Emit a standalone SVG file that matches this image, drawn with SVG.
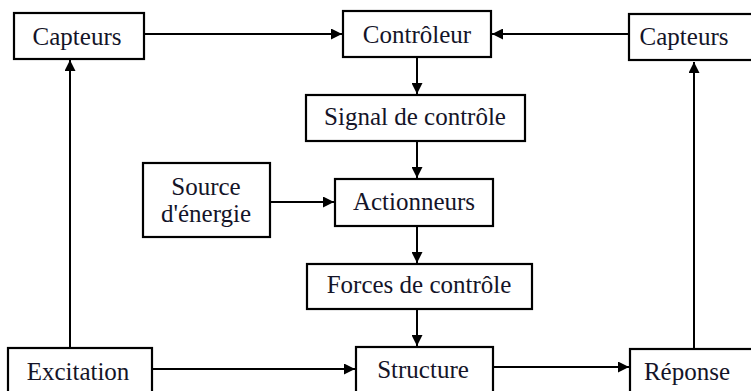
<svg xmlns="http://www.w3.org/2000/svg" width="751" height="391" viewBox="0 0 751 391">
<defs>
<style>
rect.box{fill:#fff;stroke:#000;stroke-width:2.2}
text.lbl{font-family:'Liberation Serif','Times New Roman',serif;font-size:25px;fill:#141428;text-anchor:middle}
.conn line{stroke:#000;stroke-width:2}
</style>
<marker id="ah" viewBox="0 0 10 10" refX="10" refY="5" markerWidth="11" markerHeight="11" markerUnits="userSpaceOnUse" orient="auto">
<path d="M0,0 L10,5 L0,10 Z" fill="#000"/>
</marker>
</defs>
<rect width="751" height="391" fill="#fff"/>
<g class="conn">
<line x1="144" y1="34" x2="342" y2="34" marker-end="url(#ah)"/>
<line x1="629" y1="34" x2="492" y2="34" marker-end="url(#ah)"/>
<line x1="417" y1="57" x2="417" y2="94" marker-end="url(#ah)"/>
<line x1="417" y1="141" x2="417" y2="178" marker-end="url(#ah)"/>
<line x1="270" y1="202" x2="334" y2="202" marker-end="url(#ah)"/>
<line x1="417" y1="226" x2="417" y2="263" marker-end="url(#ah)"/>
<line x1="417" y1="309" x2="417" y2="346" marker-end="url(#ah)"/>
<line x1="152" y1="369" x2="355" y2="369" marker-end="url(#ah)"/>
<line x1="493" y1="367" x2="629" y2="367" marker-end="url(#ah)"/>
<line x1="70" y1="348" x2="70" y2="60" marker-end="url(#ah)"/>
<line x1="694" y1="349" x2="694" y2="62" marker-end="url(#ah)"/>
</g>
<g id="capteurs-gauche"><rect class="box" x="14" y="13" width="130" height="46"/><text class="lbl" x="77" y="45">Capteurs</text></g>
<g id="controleur"><rect class="box" x="343" y="11" width="148" height="46"/><text class="lbl" x="417" y="43">Contrôleur</text></g>
<g id="capteurs-droite"><rect class="box" x="629" y="14" width="130" height="46"/><text class="lbl" x="684" y="45">Capteurs</text></g>
<g id="signal"><rect class="box" x="306" y="95" width="219" height="46"/><text class="lbl" x="415" y="125">Signal de contrôle</text></g>
<g id="source"><rect class="box" x="143" y="163" width="127" height="74"/><text class="lbl" x="206" y="195">Source</text><text class="lbl" x="206" y="222">d'énergie</text></g>
<g id="actionneurs"><rect class="box" x="335" y="179" width="158" height="47"/><text class="lbl" x="414" y="210">Actionneurs</text></g>
<g id="forces"><rect class="box" x="307" y="264" width="225" height="45"/><text class="lbl" x="419" y="293">Forces de contrôle</text></g>
<g id="excitation"><rect class="box" x="8" y="348" width="144" height="60"/><text class="lbl" x="78" y="380">Excitation</text></g>
<g id="structure"><rect class="box" x="356" y="347" width="137" height="60"/><text class="lbl" x="423" y="378">Structure</text></g>
<g id="reponse"><rect class="box" x="630" y="349" width="130" height="60"/><text class="lbl" x="687" y="380">Réponse</text></g>
</svg>
